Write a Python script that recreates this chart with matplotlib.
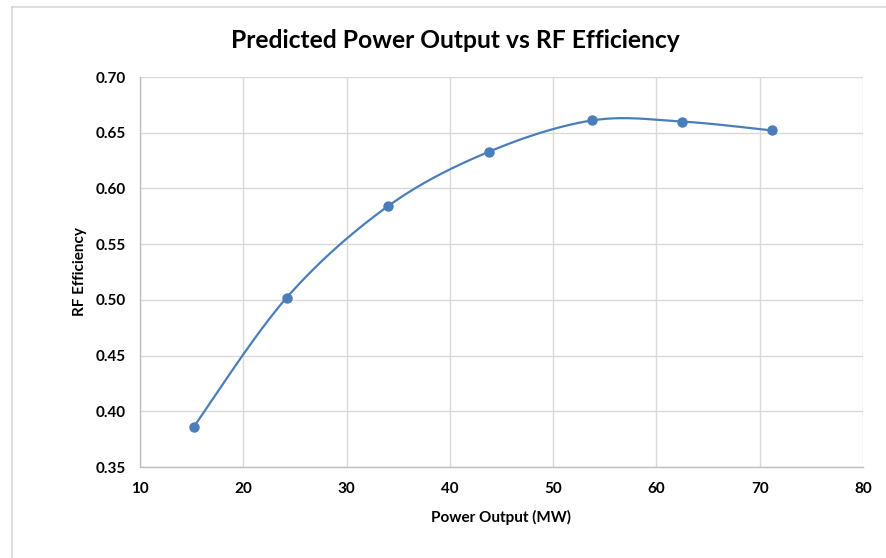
import numpy as np
import matplotlib
matplotlib.use("Agg")
import matplotlib.pyplot as plt
from matplotlib.lines import Line2D

power_mw = [15.2, 24.2, 34.0, 43.8, 53.75, 62.5, 71.2]
rf_efficiency = [0.386, 0.502, 0.584, 0.633, 0.661, 0.660, 0.652]

x_ticks = [10, 20, 30, 40, 50, 60, 70, 80]
y_ticks = [0.35, 0.40, 0.45, 0.50, 0.55, 0.60, 0.65, 0.70]

title = "Predicted Power Output vs RF Efficiency"
x_label = "Power Output (MW)"
y_label = "RF Efficiency"

LINE_BLUE = "#4a7ebb"
GRID = "#d9d9d9"
TEXT = "#000000"


def smooth_curve(xs, ys, n=40):
    """Catmull-Rom style Bezier smoothing through all points."""
    p = np.column_stack([xs, ys]).astype(float)
    pts = []
    for i in range(len(p) - 1):
        p0 = p[i - 1] if i > 0 else p[i]
        p1 = p[i]
        p2 = p[i + 1]
        p3 = p[i + 2] if i + 2 < len(p) else p[i + 1]
        c1 = p1 + (p2 - p0) / 6.0
        c2 = p2 - (p3 - p1) / 6.0
        t = np.linspace(0, 1, n)[:, None]
        seg = ((1 - t) ** 3) * p1 + 3 * ((1 - t) ** 2) * t * c1 \
            + 3 * (1 - t) * t ** 2 * c2 + t ** 3 * p2
        pts.append(seg if i == 0 else seg[1:])
    arr = np.vstack(pts)
    return arr[:, 0], arr[:, 1]


plt.rcParams["font.family"] = ["Lato", "DejaVu Sans"]

fig = plt.figure(figsize=(8.87, 5.58), dpi=100)
W, H = 887, 558
ax = fig.add_axes([140 / W, 1 - 467 / H, (863 - 140) / W, (467 - 77) / H])

sx, sy = smooth_curve(power_mw, rf_efficiency)
ax.plot(sx, sy, color=LINE_BLUE, lw=1.6, zorder=3, solid_capstyle="round")
ax.plot(power_mw, rf_efficiency, "o", color=LINE_BLUE, ms=6.5, zorder=4)

ax.set_xlim(10, 80)
ax.set_ylim(0.35, 0.70)
ax.set_xticks(x_ticks)
ax.set_yticks(y_ticks)
ax.set_xticklabels([str(v) for v in x_ticks])
ax.set_yticklabels([f"{v:.2f}" for v in y_ticks])
ax.tick_params(length=0, labelsize=11, colors=TEXT)
for lab in ax.get_xticklabels() + ax.get_yticklabels():
    lab.set_fontweight("bold")
ax.tick_params(axis="y", pad=10.5)
ax.tick_params(axis="x", pad=11)

ax.grid(True, color=GRID, lw=1.0)
ax.set_axisbelow(True)
for side in ["top", "right"]:
    ax.spines[side].set_visible(False)
for side in ["left", "bottom"]:
    ax.spines[side].set_color("#bfbfbf")
    ax.spines[side].set_linewidth(1.0)

ax.set_xlabel(x_label, fontsize=11, fontweight="bold", labelpad=10)
ax.set_ylabel(y_label, fontsize=11, fontweight="bold", labelpad=6)

fig.text(455 / W, 1 - 40 / H, title, ha="center", va="center",
         fontsize=17.7, fontweight="bold", color=TEXT)

# chart frame (top and left edges)
fig.add_artist(Line2D([12 / W, 1], [1 - 7 / H, 1 - 7 / H],
                      transform=fig.transFigure, color=GRID, lw=1.2))
fig.add_artist(Line2D([12 / W, 12 / W], [0, 1 - 7 / H],
                      transform=fig.transFigure, color=GRID, lw=1.2))

fig.savefig("out.png", dpi=100, facecolor="white")
